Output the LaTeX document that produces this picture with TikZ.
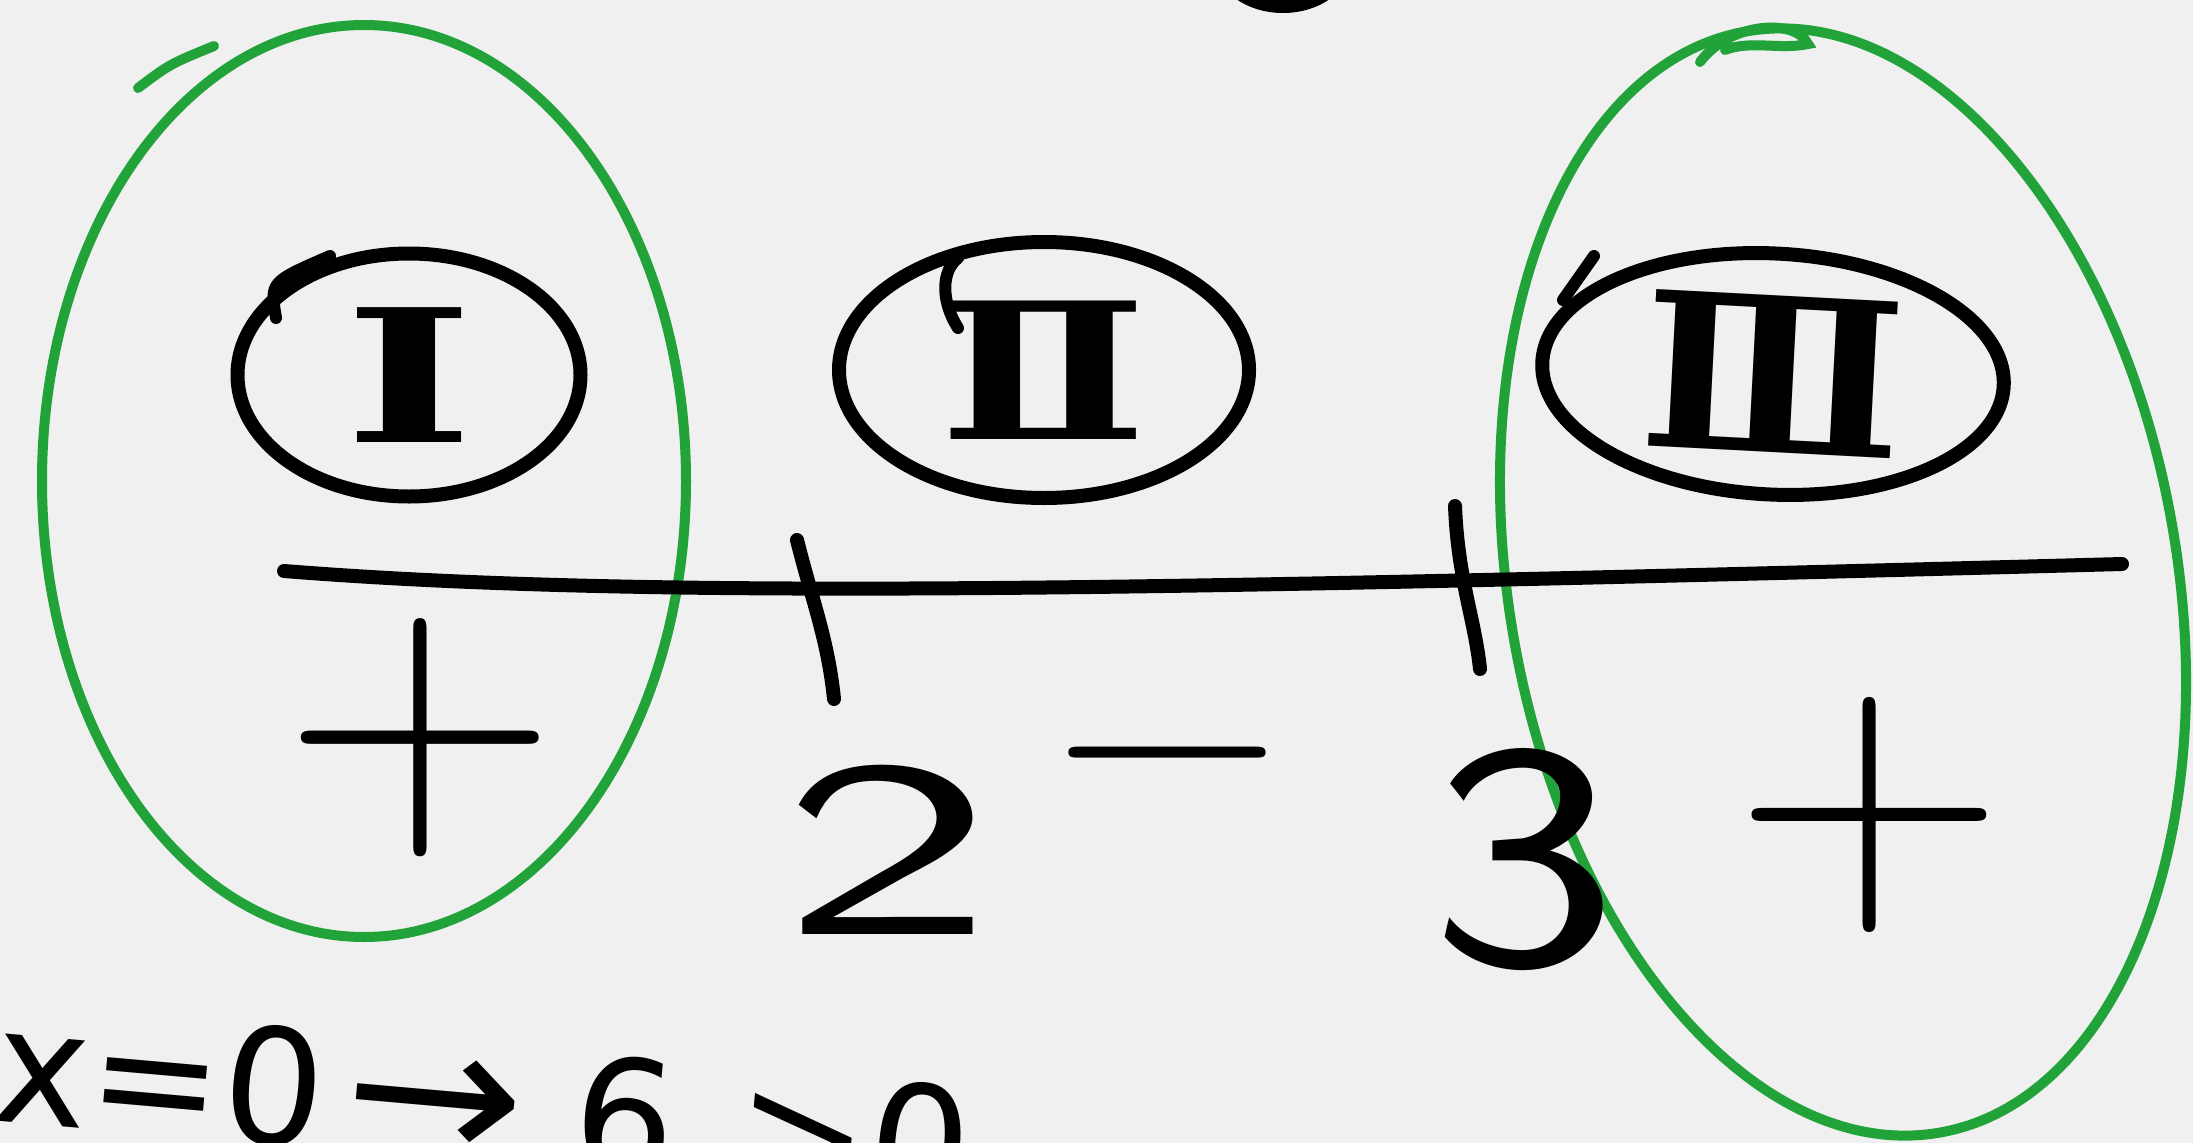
\documentclass[tikz,border=0pt]{standalone}
\usepackage{fontspec}
\usepackage{graphicx}
\usetikzlibrary{shapes.geometric}
\newfontfamily\dejavu{DejaVu Sans}
\newfontfamily\dejaserif{DejaVu Serif}
\definecolor{bg}{HTML}{F0F0F0}
\definecolor{hgreen}{HTML}{22A33A}
\tikzset{
  ink/.style={line width=14pt, draw=black, line cap=round, line join=round},
  greenink/.style={line width=10pt, draw=hgreen, line cap=round},
  greenring/.style={ellipse, line width=10pt, draw=hgreen, inner sep=0pt},
  roman/.style={ellipse, draw=black, line width=14pt, inner sep=0pt},
  sign/.style={inner sep=0pt, text=black},
}
\begin{document}
\begin{tikzpicture}[x=1pt,y=-1pt]
\useasboundingbox (0,0) rectangle (2193,1143);
\fill[bg] (0,0) rectangle (2193,1143);
\clip (0,0) rectangle (2193,1143);

% partial shape at the top edge
\draw[line width=18pt] (1283,-40) ellipse [x radius=60, y radius=44];

% green rings
\node[greenring, minimum width=644pt, minimum height=912pt] (gL) at (364,481) {};
\coordinate (gLa) at (138,88);
\coordinate (gLb) at (214,46);
\draw[greenink] (gLa) .. controls (170,64) .. (gLb);
\node[greenring, rotate=10, minimum width=668pt, minimum height=1118pt] (gR) at (1843,582) {};
\coordinate (gRa) at (1700,62);
\coordinate (gRb) at (1808,44);
\draw[greenink] (gRa) .. controls (1730,22) and (1795,18) .. (gRb)
                .. controls (1780,50) and (1750,40) .. (1725,50);

% roman numerals in black rings
\node[roman, minimum width=343pt, minimum height=243pt,
      font=\dejaserif\bfseries\fontsize{185}{185}\selectfont] (c1) at (409,375) {\scalebox{1.5}[1]{Ⅰ}};
\coordinate (h1a) at (276,318);
\coordinate (h1b) at (330,256);
\draw[ink, line width=12pt] (h1a) .. controls (270,282) .. (h1b);
\node[roman, minimum width=410pt, minimum height=256pt,
      font=\dejaserif\bfseries\fontsize{190}{190}\selectfont] (c2) at (1044,370) {\scalebox{1.3}[1]{Ⅱ}};
\coordinate (h2a) at (958,328);
\coordinate (h2b) at (958,258);
\draw[ink, line width=12pt] (h2a) .. controls (940,300) and (942,270) .. (h2b);
\node[roman, rotate=-3, minimum width=462pt, minimum height=241pt,
      font=\dejaserif\bfseries\fontsize{215}{215}\selectfont] (c3) at (1773,374) {Ⅲ};
\coordinate (h3a) at (1594,256);
\coordinate (h3b) at (1563,300);
\draw[ink, line width=12pt] (h3a) -- (h3b);

% number line
\coordinate (L) at (284,571);
\coordinate (R) at (2122,564);
\draw[ink] (L) .. controls (650,600) and (1150,590) .. (R);

% tick marks
\coordinate (t1a) at (797,540);
\coordinate (t1b) at (834,699);
\draw[ink] (t1a) .. controls (812,600) and (828,640) .. (t1b);
\coordinate (t2a) at (1455,506);
\coordinate (t2b) at (1480,669);
\draw[ink] (t2a) .. controls (1458,580) and (1475,620) .. (t2b);

% signs and roots
\node[sign, font=\sffamily\fontsize{380}{380}\selectfont] (p1) at (420,738) {+};
\node[sign, font=\sffamily\fontsize{252}{252}\selectfont] (two) at (888,850) {\scalebox{1.8}[1]{2}};
\node[sign, font=\sffamily\fontsize{315}{315}\selectfont] (mn) at (1168,789) {−};
\node[sign, font=\sffamily\fontsize{323}{323}\selectfont] (three) at (1524,860) {\scalebox{1.25}[1]{3}};
\node[sign, font=\sffamily\fontsize{375}{375}\selectfont] (p2) at (1870,815) {+};

% bottom line of text, cut by the edge
\node[anchor=base west, rotate=-5, inner sep=0pt, text=black,
      font=\dejavu\fontsize{160}{160}\selectfont] (eq) at (-10,1120)
      {x=0\hspace{20pt}\scalebox{1.35}[1.2]{→}\hspace{50pt}6\hspace{60pt}>0};
\end{tikzpicture}
\end{document}
